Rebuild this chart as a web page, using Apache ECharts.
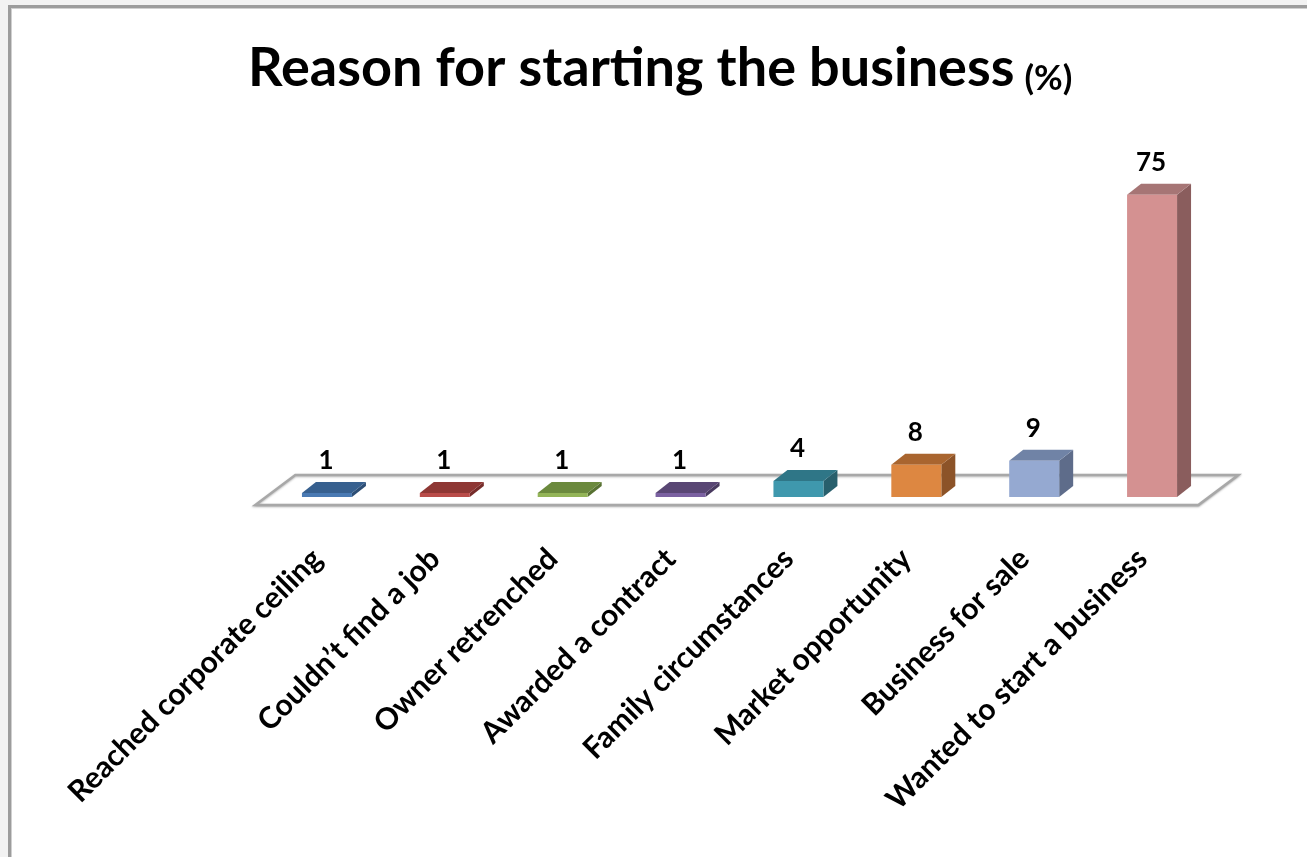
<!DOCTYPE html>
<html>
<head>
<meta charset="utf-8">
<title>Reason for starting the business</title>
<script src="https://cdn.jsdelivr.net/npm/echarts@6/dist/echarts.min.js"></script>
<style>
  html, body { margin: 0; padding: 0; background: #f2f2f2; overflow: hidden; }
  #frame {
    position: absolute; left: 8px; top: 5px; width: 1400px; height: 1000px;
    background: #ffffff;
    border-left: 3px solid #9c9c9c; border-top: 3px solid #9c9c9c;
    box-shadow: inset 1px 1px 0 #d0d0d0;
  }
  #chart { position: absolute; left: 0; top: 0; width: 1307px; height: 857px; }
</style>
</head>
<body>
<div id="frame"></div>
<div id="chart"></div>
<script>
// Survey answers: why owners started their business (share of respondents, %)
const categories = [
  'Reached corporate ceiling',
  'Couldn\u2019t find a job',
  'Owner retrenched',
  'Awarded a contract',
  'Family circumstances',
  'Market opportunity',
  'Business for sale',
  'Wanted to start a business'
];
const values = [1, 1, 1, 1, 4, 8, 9, 75];

// Shading per bar: lit front face, darker top and side faces
const frontColors = ['#4a7ab3', '#b94c49', '#93b457', '#7b61a1', '#3f98ad', '#dd8741', '#95a9d1', '#d49191'];
const topColors   = ['#37608f', '#8e3734', '#6b893d', '#594674', '#2f7687', '#a9652f', '#7083a6', '#a67575'];
const sideColors  = ['#2d4e75', '#752c2a', '#587132', '#48395f', '#285f6c', '#8c5328', '#5e6c8a', '#8a5d5d'];

const chart = echarts.init(document.getElementById('chart'), null, { renderer: 'canvas' });

// Pseudo-3D depth of the bars and of the floor plate
const BAR_DX = 14, BAR_DY = -11;
const FLOOR_FRONT = 8, FLOOR_BACK = -22;      // vertical offsets from the zero line
const FLOOR_SLOPE = 40 / 30;                   // horizontal shift per vertical pixel of depth

function renderFloor(params, api) {
  const cs = params.coordSys;
  const zero = api.coord([0, 0]);
  const yF = zero[1] + FLOOR_FRONT;
  const yB = zero[1] + FLOOR_BACK;
  const shiftF = -FLOOR_FRONT * FLOOR_SLOPE - 2;
  const shiftB = -FLOOR_BACK * FLOOR_SLOPE - 2;
  return {
    type: 'polygon',
    shape: {
      points: [
        [cs.x + shiftF, yF],
        [cs.x + shiftB, yB],
        [cs.x + cs.width + shiftB, yB],
        [cs.x + cs.width + shiftF, yF]
      ]
    },
    style: {
      fill: '#ffffff',
      stroke: '#a8a8a8',
      lineWidth: 2.5,
      shadowColor: 'rgba(0,0,0,0.25)',
      shadowBlur: 2,
      shadowOffsetY: 1
    }
  };
}

function renderBar(params, api) {
  const idx = params.dataIndex;
  const cat = api.value(0);
  const val = api.value(1);
  const base = api.coord([cat, 0]);
  const top = api.coord([cat, val]);
  const band = api.size([1, 0])[0];
  const w = band * 0.424;
  const x0 = base[0] - w / 2, x1 = base[0] + w / 2;
  const yb = base[1], yt = top[1];
  return {
    type: 'group',
    children: [
      {
        type: 'polygon',
        shape: { points: [[x1, yb], [x1 + BAR_DX, yb + BAR_DY], [x1 + BAR_DX, yt + BAR_DY], [x1, yt]] },
        style: { fill: sideColors[idx] }
      },
      {
        type: 'polygon',
        shape: { points: [[x0, yt], [x0 + BAR_DX, yt + BAR_DY], [x1 + BAR_DX, yt + BAR_DY], [x1, yt]] },
        style: { fill: topColors[idx] }
      },
      {
        type: 'rect',
        shape: { x: x0, y: yt, width: w, height: yb - yt },
        style: { fill: frontColors[idx] }
      },
      {
        type: 'text',
        style: {
          text: String(val),
          x: base[0] - 1,
          y: yt + BAR_DY - 8,
          align: 'center',
          verticalAlign: 'bottom',
          fill: '#000000',
          font: 'bold 26px Lato'
        }
      }
    ]
  };
}

chart.setOption({
  animation: false,
  backgroundColor: 'transparent',
  title: {
    left: 243,
    top: 37,
    text: '{main|Reason for starting the business}  {pct|(%)}',
    textStyle: {
      rich: {
        main: { fontFamily: 'Lato', fontWeight: 'bold', fontSize: 54, color: '#000000' },
        pct: { fontFamily: 'Lato', fontWeight: 'bold', fontSize: 35, color: '#000000', verticalAlign: 'bottom', padding: [0, 0, 0, 0] }
      }
    }
  },
  grid: { left: 268, right: 96, top: 94, bottom: 360, containLabel: false },
  xAxis: {
    type: 'category',
    data: categories,
    boundaryGap: true,
    axisLine: { show: false },
    axisTick: { show: false },
    axisLabel: {
      interval: 0,
      rotate: 45,
      margin: 47,
      padding: [0, 14, 0, 0],
      color: '#000000',
      fontFamily: 'Lato',
      fontWeight: 'bold',
      fontSize: 30
    }
  },
  yAxis: {
    type: 'value',
    min: 0,
    max: 100,
    show: false,
    splitLine: { show: false }
  },
  series: [
    {
      type: 'custom',
      name: 'floor',
      renderItem: renderFloor,
      data: [[0, 0]],
      z: 1,
      silent: true
    },
    {
      type: 'custom',
      name: 'Reason (%)',
      renderItem: renderBar,
      data: values.map((v, i) => [i, v]),
      encode: { x: 0, y: 1 },
      z: 2
    }
  ]
});
</script>
</body>
</html>
